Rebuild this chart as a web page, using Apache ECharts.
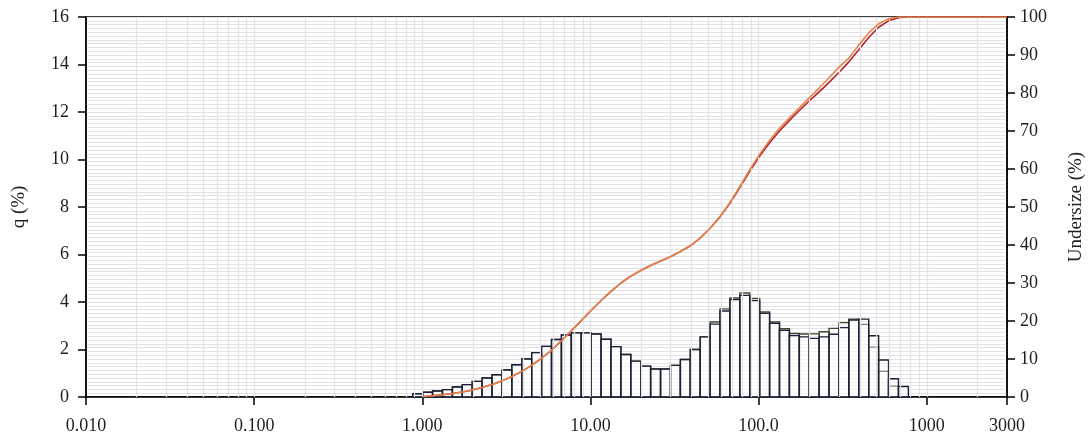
<!DOCTYPE html>
<html>
<head>
<meta charset="utf-8">
<script src="https://cdn.jsdelivr.net/npm/echarts@6/dist/echarts.min.js"></script>
<style>
html,body{margin:0;padding:0;background:#fff;}
#chart{width:1091px;height:437px;}
</style>
</head>
<body>
<div id="chart"></div>
<script>
// Particle size channel edges (µm)
var binEdges = [0.877,1.005,1.151,1.318,1.510,1.729,1.981,2.269,2.599,2.976,3.409,3.905,4.472,5.122,5.867,6.720,7.697,8.816,10.097,11.565,13.246,15.172,17.377,19.904,22.797,26.111,29.907,34.255,39.234,44.938,51.471,58.953,67.523,77.339,88.583,101.460,116.210,133.103,152.453,174.616,200.000,229.075,262.376,300.518,344.206,394.244,451.556,517.200,592.387,678.504,777.141];
// q (%) per channel, sample A (green outline, orange cumulative)
var qA = [0.14,0.20,0.25,0.31,0.42,0.52,0.66,0.80,0.94,1.14,1.36,1.60,1.87,2.13,2.42,2.61,2.70,2.70,2.65,2.43,2.12,1.79,1.51,1.30,1.18,1.18,1.33,1.58,2.00,2.53,3.16,3.71,4.17,4.38,4.15,3.58,3.16,2.88,2.68,2.65,2.66,2.75,2.89,3.13,3.28,3.06,2.10,1.08,0.46,0];
// q (%) per channel, sample B (navy outline, dark red cumulative)
var qB = [0.14,0.20,0.25,0.31,0.42,0.52,0.66,0.80,0.94,1.14,1.36,1.60,1.87,2.13,2.42,2.61,2.70,2.70,2.65,2.43,2.12,1.79,1.51,1.30,1.18,1.18,1.33,1.58,2.00,2.53,3.07,3.62,4.10,4.28,4.06,3.52,3.10,2.81,2.59,2.53,2.47,2.53,2.64,2.92,3.24,3.28,2.58,1.56,0.77,0.44];
// Undersize (%) curve points
var cumSizes = [1.005,1.151,1.318,1.510,1.729,1.981,2.269,2.599,2.976,3.409,3.905,4.472,5.122,5.867,6.720,7.697,8.816,10.097,11.565,13.246,15.172,17.377,19.904,22.797,26.111,29.907,34.255,39.234,44.938,51.471,58.953,67.523,77.339,88.583,101.460,116.210,133.103,152.453,174.616,200.000,229.075,262.376,300.518,344.206,394.244,451.556,517.200,592.387,678.504,777.141,3000];
var cumA = [0.14,0.34,0.59,0.90,1.32,1.84,2.50,3.30,4.24,5.38,6.74,8.34,10.2,12.3,14.8,17.4,20.1,22.8,25.4,27.8,30.0,31.8,33.3,34.6,35.8,36.9,38.3,39.8,41.8,44.4,47.5,51.2,55.4,59.8,63.9,67.5,70.7,73.5,76.1,78.7,81.3,84.0,86.8,89.2,92.6,95.8,98.2,99.5,100,100,100];
var cumB = [0.14,0.34,0.59,0.90,1.32,1.84,2.50,3.30,4.24,5.38,6.74,8.34,10.2,12.3,14.8,17.4,20.1,22.8,25.4,27.8,30.0,31.8,33.3,34.6,35.8,36.9,38.3,39.8,41.8,44.4,47.4,51.0,55.1,59.4,63.4,66.9,70.0,72.8,75.4,77.9,80.3,82.8,85.4,88.2,91.4,94.6,97.3,99.0,99.8,100,100];
// X tick labels
var xTickValues = [0.01,0.1,1,10,100,1000,3000];
var xTickLabels = ['0.010','0.100','1.000','10.00','100.0','1000','3000'];

var FONT = 'Liberation Serif';
var TXT = '#1e1e1e';

function barData(q){
  var d=[];
  for(var i=0;i<q.length;i++){ d.push([binEdges[i], binEdges[i+1], q[i]]); }
  return d;
}
function lineData(c){
  var d=[];
  for(var i=0;i<c.length;i++){ d.push([cumSizes[i], c[i]]); }
  return d;
}
// vertical log grid lines (1..9 per decade)
var vGrid=[];
for(var e=-2;e<=3;e++){
  for(var m=1;m<=9;m++){
    var v=m*Math.pow(10,e);
    if(v>0.0100001 && v<2999) vGrid.push({xAxis:v});
  }
}
function makeBar(name,q,stroke,z){
  return {
    name:name, type:'custom', xAxisIndex:0, yAxisIndex:0, z:z,
    encode:{x:[0,1], y:2},
    data:barData(q),
    renderItem:function(params,api){
      var p0=api.coord([api.value(0), api.value(2)]);
      var p1=api.coord([api.value(1), 0]);
      return {type:'rect', shape:{x:p0[0], y:p0[1], width:p1[0]-p0[0], height:p1[1]-p0[1]},
        style:{fill:'rgba(255,255,255,0.35)', stroke:stroke, lineWidth:1.4}};
    }
  };
}
var chart = echarts.init(document.getElementById('chart'), null, {renderer:'canvas'});
chart.setOption({
  animation:false,
  backgroundColor:'#fff',
  grid:{left:86, right:84, top:17, bottom:40, containLabel:false, outerBoundsMode:'none',
        show:true, borderColor:'#000', borderWidth:1.5, backgroundColor:'transparent'},
  xAxis:{
    type:'log', logBase:10, min:0.01, max:3000,
    axisLine:{show:true, lineStyle:{color:'#000', width:1.5}},
    axisTick:{show:true, length:8, lineStyle:{color:'#000', width:1.5}},
    axisLabel:{margin:20, fontFamily:FONT, fontSize:18, color:TXT,
      showMinLabel:true, showMaxLabel:true,
      formatter:function(v){
        for(var i=0;i<xTickValues.length;i++){
          if(Math.abs(Math.log10(v)-Math.log10(xTickValues[i]))<1e-4) return xTickLabels[i];
        }
        return '';
      }},
    splitLine:{show:false}
  },
  yAxis:[{
    type:'value', min:0, max:16, interval:2, position:'left',
    name:'q (%)', nameLocation:'middle', nameGap:57,
    nameTextStyle:{fontFamily:FONT, fontSize:19, color:TXT},
    axisLine:{show:true, lineStyle:{color:'#000', width:1.5}},
    axisTick:{show:true, length:8, lineStyle:{color:'#000', width:1.5}},
    axisLabel:{margin:17, fontFamily:FONT, fontSize:18, color:TXT},
    splitLine:{show:false}
  },{
    type:'value', min:0, max:100, interval:10, position:'right',
    name:'Undersize (%)', nameLocation:'middle', nameGap:60,
    nameTextStyle:{fontFamily:FONT, fontSize:19, color:TXT},
    axisLine:{show:true, lineStyle:{color:'#000', width:1.5}},
    axisTick:{show:true, length:8, lineStyle:{color:'#000', width:1.5}},
    axisLabel:{margin:13, fontFamily:FONT, fontSize:18, color:TXT},
    splitLine:{show:true, lineStyle:{color:'#e4e4e8', width:1}},
    minorTick:{show:false, splitNumber:10},
    minorSplitLine:{show:true, lineStyle:{color:'#e4e4e8', width:1}}
  }],
  series:[
    {type:'line', data:[], z:1, silent:true,
     markLine:{silent:true, symbol:'none', label:{show:false},
       lineStyle:{color:'#e2e2e7', width:1.2, type:'solid'}, data:vGrid}},
    makeBar('A', qA, '#3c4a30', 2),
    makeBar('B', qB, '#1b2038', 3),
    {name:'cumB', type:'line', yAxisIndex:1, data:lineData(cumB), symbol:'none', z:4,
     lineStyle:{color:'#b3202e', width:1.6}},
    {name:'cumA', type:'line', yAxisIndex:1, data:lineData(cumA), symbol:'none', z:5,
     lineStyle:{color:'#e3864a', width:1.6}}
  ]
});
</script>
</body>
</html>
